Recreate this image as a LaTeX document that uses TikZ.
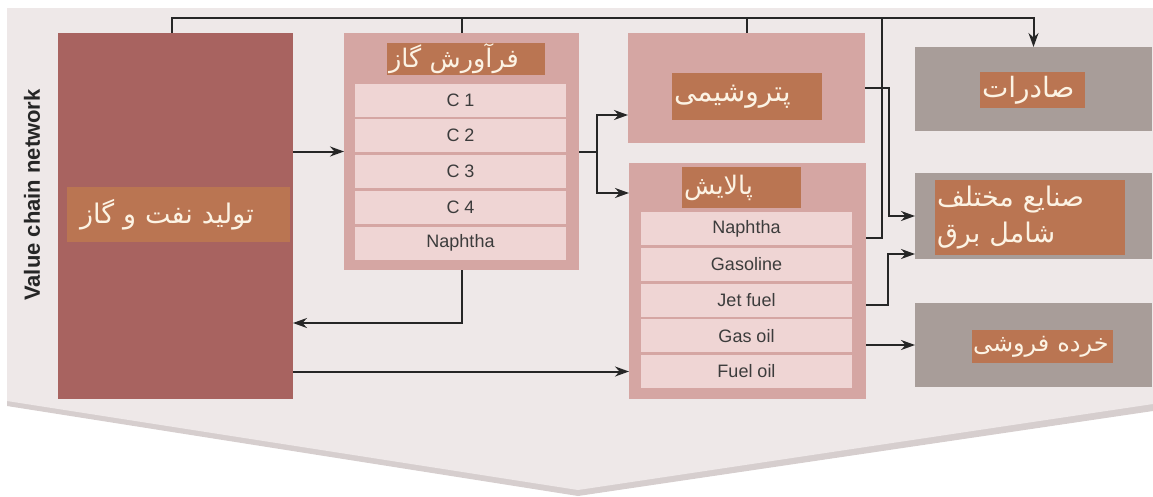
\documentclass[tikz,border=0pt]{standalone}
\usepackage{fontspec}
\setmainfont{Liberation Sans}
\newfontfamily\farsifont[Script=Arabic]{DejaVu Sans}
\TeXXeTstate=1
\usepackage{xcolor}
\usepackage{tikz}
\usetikzlibrary{positioning}
\usetikzlibrary{arrows.meta}
\definecolor{panelgray}{RGB}{238,232,232}
\definecolor{shadowgray}{RGB}{214,206,206}
\definecolor{mainred}{RGB}{168,99,96}
\definecolor{stagepink}{RGB}{213,166,163}
\definecolor{rowpink}{RGB}{239,213,212}
\definecolor{endgray}{RGB}{168,157,153}
\definecolor{labelbrown}{RGB}{186,117,82}
\definecolor{labelcream}{RGB}{252,243,228}
\definecolor{flowgray}{RGB}{38,38,38}
\definecolor{rowtext}{RGB}{60,60,60}
\newcommand{\fatext}[1]{\beginR #1\endR}
\newcommand{\fasize}[1]{\farsifont\fontsize{#1}{36}\selectfont}
\tikzset{
    basebox/.style = {rectangle, inner sep=0pt, outer sep=0pt},
    mainbox/.style = {basebox, fill=mainred},
    stagebox/.style = {basebox, fill=stagepink},
    endbox/.style = {basebox, fill=endgray, minimum width=237pt},
    titlebox/.style = {basebox, fill=labelbrown, text=labelcream, inner xsep=2pt, align=left, font=\fasize{26}},
    rowbox/.style = {basebox, fill=rowpink, minimum width=211pt, minimum height=33pt, text=rowtext, font=\fontsize{18}{20}\selectfont},
    flow/.style = {line width=2pt, draw=flowgray, -{Stealth[length=14pt,width=10pt]}},
    bus/.style = {line width=2pt, draw=flowgray},
}
\begin{document}
\begin{tikzpicture}[x=1pt, y=-1pt]
  \useasboundingbox (0,0) rectangle (1153,496);
  % panel with its shadow
  \fill[shadowgray] (7,10) -- (1153,10) -- (1153,411) -- (578,496) -- (7,406) -- cycle;
  \fill[panelgray] (7,8) -- (1153,8) -- (1153,404) -- (578,490) -- (7,401) -- cycle;
  \node[rotate=90, font=\bfseries\fontsize{22}{24}\selectfont, text=flowgray] (vcn) at (32,195) {Value chain network};

  % production
  \node[mainbox, minimum width=235pt, minimum height=366pt] (prod) at (175.5,216) {};
  \node[titlebox, inner xsep=13pt, text width=197pt, minimum height=55pt, font=\fasize{27}] (prodlabel) at (178.5,214.5) {\fatext{تولید نفت و گاز}};

  % gas processing
  \node[stagebox, minimum width=235pt, minimum height=237pt] (gas) at (461.5,151.5) {};
  \node[titlebox, text width=154pt, minimum height=32pt, font=\fasize{25.5}] (gaslabel) at (466,59) {\fatext{فرآورش گاز}};
  \node[rowbox] (g1) at (460.5,100) {C 1};
  \node[rowbox, below=2.75pt of g1] (g2) {C 2};
  \node[rowbox, below=2.75pt of g2] (g3) {C 3};
  \node[rowbox, below=2.75pt of g3] (g4) {C 4};
  \node[rowbox, below=2.75pt of g4] (g5) {Naphtha};

  % petrochemicals
  \node[stagebox, minimum width=237pt, minimum height=110pt] (petro) at (746.5,88) {};
  \node[titlebox, text width=146pt, minimum height=47pt, font=\fasize{28}] (petrolabel) at (747,96.5) {\fatext{پتروشیمی}};

  % refining
  \node[stagebox, minimum width=237pt, minimum height=236pt] (refine) at (747.5,281) {};
  \node[titlebox, text width=115pt, minimum height=41pt, font=\fasize{25.5}] (refinelabel) at (741.5,187.5) {\fatext{پالایش}};
  \node[rowbox] (r1) at (746.5,228.5) {Naphtha};
  \node[rowbox, below=2.75pt of r1] (r2) {Gasoline};
  \node[rowbox, below=2.75pt of r2] (r3) {Jet fuel};
  \node[rowbox, below=2.75pt of r3] (r4) {Gas oil};
  \node[rowbox, below=2.75pt of r4] (r5) {Fuel oil};

  % markets
  \node[endbox, minimum height=84pt] (export) at (1033.5,89) {};
  \node[titlebox, text width=101pt, minimum height=36pt, font=\fasize{28}] (exportlabel) at (1032.5,90) {\fatext{صادرات}};
  \node[endbox, minimum height=86pt] (industry) at (1033.5,216) {};
  \node[titlebox, text width=186pt, minimum height=75pt, font=\fasize{27}] (industrylabel) at (1030,217.5) {\fatext{صنایع مختلف}\\\fatext{شامل برق}};
  \node[endbox, minimum height=84pt] (retail) at (1033.5,345) {};
  \node[titlebox, inner xsep=1pt, text width=139pt, minimum height=33pt, font=\fasize{24}] (retaillabel) at (1042.5,346.5) {\fatext{خرده فروشی}};

  % connectors
  \coordinate (bus) at (1033.5,18);
  \coordinate (split) at (597,151.5);
  \coordinate (drop) at (882,18);
  \draw[flow] ([xshift=-3.5pt]prod.north) |- (bus) -- (export.north);
  \draw[bus] (gas.north) -- (gas.north |- bus);
  \draw[bus] (petro.north) -- (petro.north |- bus);
  \draw[bus] ([yshift=-9.5pt]r1.east -| refine.east) -| (drop);
  \draw[flow] (prod.east |- gas.west) -- (gas.west);
  \draw[bus] (gas.east) -- (split);
  \draw[flow] (split) |- ([yshift=-27pt]petro.west);
  \draw[flow] (split) |- ([yshift=88pt]refine.west);
  \draw[flow] (gas.south) |- ([yshift=-107pt]prod.east);
  \draw[flow] (prod.east |- r5) -- (refine.west |- r5);
  \draw[flow] (petro.east) -- ++(24,0) |- (industry.west);
  \draw[flow] ([yshift=-5pt]r3.east -| refine.east) -- ++(22,0) |- ([yshift=-38pt]industry.west);
  \draw[flow] (refine.east |- retail.west) -- (retail.west);
\end{tikzpicture}
\end{document}
